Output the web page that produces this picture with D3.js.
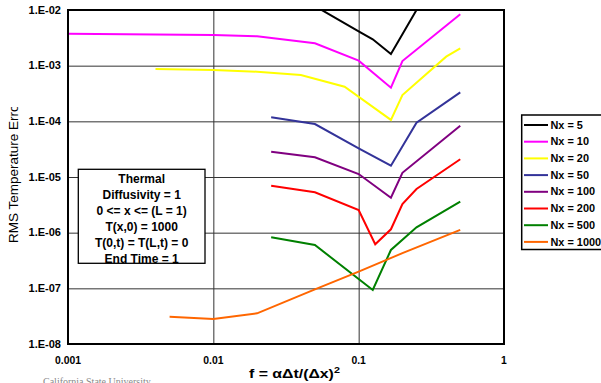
<!DOCTYPE html>
<html><head><meta charset="utf-8">
<script src="https://cdn.jsdelivr.net/npm/d3@7"></script>
<style>
html,body{margin:0;padding:0;background:#fff;overflow:hidden;}
svg{display:block;font-family:Arial,"Liberation Sans",sans-serif;}
</style></head>
<body>
<script>
// ---- data ----
const seriesNames = ["Nx = 5","Nx = 10","Nx = 20","Nx = 50","Nx = 100","Nx = 200","Nx = 500","Nx = 1000"];
const seriesColors = ["#000000","#FF00FF","#FFFF00","#333399","#800080","#FF0000","#008000","#FF6600"];

const nx5F    = [0.05, 0.1, 0.125, 0.1667, 0.2, 0.25];
const nx5Err  = [1.175e-2, 4.14e-3, 2.98e-3, 1.62e-3, 3.65e-3, 1.0e-2];
const nx10F   = [0.001, 0.01, 0.02, 0.05, 0.1, 0.1667, 0.2, 0.5];
const nx10Err = [3.75e-3, 3.56e-3, 3.37e-3, 2.52e-3, 1.23e-3, 4.02e-4, 1.21e-3, 8.37e-3];
const nx20F   = [0.004, 0.01, 0.02, 0.04, 0.08, 0.1667, 0.2, 0.4, 0.5];
const nx20Err = [8.71e-4, 8.36e-4, 7.79e-4, 6.80e-4, 4.19e-4, 1.06e-4, 2.97e-4, 1.45e-3, 2.05e-3];
const nx50F   = [0.025, 0.05, 0.1, 0.1667, 0.25, 0.5];
const nx50Err = [1.18e-4, 8.95e-5, 3.28e-5, 1.60e-5, 9.46e-5, 3.32e-4];
const nx100F  = [0.025, 0.05, 0.1, 0.1667, 0.2, 0.5];
const nx100Err= [2.85e-5, 2.26e-5, 1.13e-5, 4.25e-6, 1.19e-5, 8.35e-5];
const nx200F  = [0.025, 0.05, 0.1, 0.13, 0.1667, 0.2, 0.25, 0.5];
const nx200Err= [6.98e-6, 5.31e-6, 2.55e-6, 6.18e-7, 1.15e-6, 3.25e-6, 6.09e-6, 2.08e-5];
const nx500F  = [0.025, 0.05, 0.125, 0.1667, 0.25, 0.5];
const nx500Err= [8.26e-7, 6.01e-7, 9.34e-8, 4.89e-7, 1.25e-6, 3.60e-6];
const nx1000F = [0.005, 0.01, 0.02, 0.05, 0.1, 0.2, 0.5];
const nx1000Err=[3.10e-8, 2.81e-8, 3.56e-8, 9.6e-8, 1.99e-7, 4.28e-7, 1.12e-6];

const xTickValues = [0.001, 0.01, 0.1, 1];
const xTickLabels = ["0.001", "0.01", "0.1", "1"];
const yTickValues = [1e-2, 1e-3, 1e-4, 1e-5, 1e-6, 1e-7, 1e-8];
const yTickLabels = ["1.E-02","1.E-03","1.E-04","1.E-05","1.E-06","1.E-07","1.E-08"];

const infoLines = ["Thermal","Diffusivity = 1","0 <= x <= (L = 1)","T(x,0) = 1000","T(0,t) = T(L,t) = 0","End Time = 1"];

const allF   = [nx5F, nx10F, nx20F, nx50F, nx100F, nx200F, nx500F, nx1000F];
const allErr = [nx5Err, nx10Err, nx20Err, nx50Err, nx100Err, nx200Err, nx500Err, nx1000Err];
const series = seriesNames.map((n,i)=>({name:n, color:seriesColors[i],
  pts: allF[i].map((f,j)=>({f:f, e:allErr[i][j]}))}));

// ---- layout ----
const W = 601, H = 383;
const L = 68, R = 504, T = 10, B = 344;

const svg = d3.select("body").append("svg").attr("width", W).attr("height", H);

const x = d3.scaleLog().domain([0.001, 1]).range([L, R]);
const y = d3.scaleLog().domain([1e-8, 1e-2]).range([B, T]);

const defs = svg.append("defs");
defs.append("clipPath").attr("id","plotClip").append("rect")
  .attr("x", L).attr("y", T).attr("width", R-L).attr("height", B-T);
defs.append("clipPath").attr("id","yTitleClip").append("rect")
  .attr("x", 0).attr("y", 107).attr("width", 40).attr("height", 200);

// gridlines via axes
const gx = svg.append("g")
  .attr("transform", `translate(0,${B})`)
  .call(d3.axisBottom(x).tickValues([0.01, 0.1]).tickSize(-(B-T)).tickFormat(""));
gx.select(".domain").remove();
gx.selectAll("line").attr("stroke", "#333").attr("stroke-width", 1);

const gy = svg.append("g")
  .attr("transform", `translate(${L},0)`)
  .call(d3.axisLeft(y).tickValues([1e-3,1e-4,1e-5,1e-6,1e-7]).tickSize(-(R-L)).tickFormat(""));
gy.select(".domain").remove();
gy.selectAll("line").attr("stroke", "#333").attr("stroke-width", 1);

// series
const line = d3.line().x(d=>x(d.f)).y(d=>y(d.e));
const gs = svg.append("g").attr("clip-path","url(#plotClip)");
series.forEach(s=>{
  gs.append("path").datum(s.pts).attr("d", line)
    .attr("fill","none").attr("stroke", s.color).attr("stroke-width", 2)
    .attr("stroke-linejoin","miter");
});

// plot border
svg.append("rect").attr("x", L).attr("y", T).attr("width", R-L).attr("height", B-T)
  .attr("fill","none").attr("stroke","#000").attr("stroke-width", 2);

// stretched text helper
function stext(g, tx, ty, str, size, sx, anchor){
  return g.append("text").attr("transform", `translate(${tx},${ty}) scale(${sx},1)`)
    .attr("font-size", size).attr("font-weight","bold").attr("text-anchor", anchor).text(str);
}

// y tick labels
const gyl = svg.append("g");
yTickValues.forEach((v,i)=> stext(gyl, 61, y(v)+3.6, yTickLabels[i], 10.2, 1.08, "end"));
// x tick labels
const gxl = svg.append("g");
xTickValues.forEach((v,i)=> stext(gxl, x(v), 363.5, xTickLabels[i], 10.2, 1.02, "middle"));

// y axis title (clipped like the original)
svg.append("g").attr("clip-path","url(#yTitleClip)")
  .append("text").attr("transform","translate(18,243) rotate(-90)")
  .attr("font-size", 13.5).attr("text-anchor","start").text("RMS Temperature Error");

// x axis title
const xt = svg.append("text").attr("font-size", 12.5).attr("font-weight","bold");
xt.append("tspan").text("f = αΔt/(Δx)");
xt.append("tspan").attr("dy", -5).attr("font-size", 8.5).text("2");
const xtw = xt.node().getComputedTextLength();
const xsx = 91 / xtw;
xt.attr("transform", `translate(249,378) scale(${xsx},1)`);

// info box
const bx = 78.3, by = 169.3, bw = 126.7, bh = 94;
svg.append("rect").attr("x", bx).attr("y", by).attr("width", bw).attr("height", bh)
  .attr("fill","#fff").attr("stroke","#000").attr("stroke-width",1.3);
infoLines.forEach((t,i)=>{
  svg.append("text").attr("x", bx+bw/2).attr("y", 183.3 + i*15.9)
    .attr("font-size", 12).attr("font-weight","bold").attr("text-anchor","middle").text(t);
});

// legend
const lg = svg.append("g");
lg.append("rect").attr("x", 521.7).attr("y", 115).attr("width", 100).attr("height", 134.5)
  .attr("fill","#fff").attr("stroke","#000").attr("stroke-width",1.5);
series.forEach((s,i)=>{
  const cy = 125 + i*16.7;
  lg.append("line").attr("x1", 524).attr("x2", 548).attr("y1", cy).attr("y2", cy)
    .attr("stroke", s.color).attr("stroke-width", 2);
  stext(lg, 550.5, cy+3.6, s.name, 10.2, 1.07, "start");
});

// footer text
svg.append("text").attr("x", 43).attr("y", 384.5)
  .attr("font-family","'Liberation Serif','DejaVu Serif',serif").attr("font-size", 10)
  .attr("fill","#888").text("California State University");
</script>
</body></html>
